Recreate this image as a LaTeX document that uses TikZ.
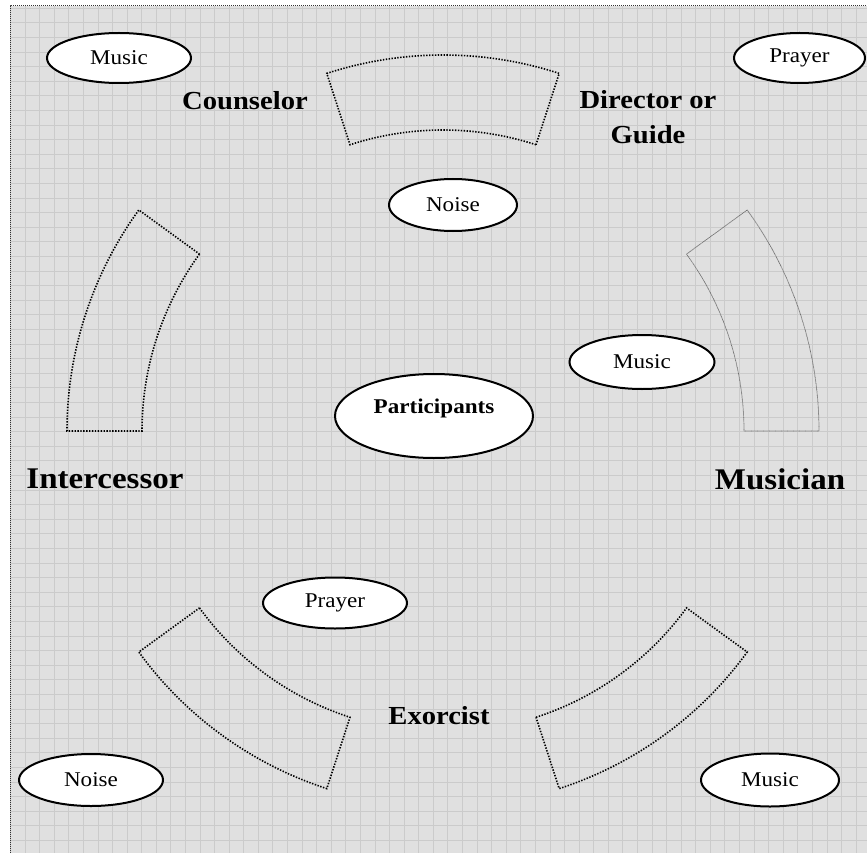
\documentclass[tikz,border=0pt]{standalone}
\usepackage{fontspec}
\setmainfont{Liberation Serif}[FakeStretch=1.1]
\usetikzlibrary{shapes.geometric,calc}

\definecolor{paper}{RGB}{224,224,224}
\definecolor{gridgray}{RGB}{203,203,203}

\tikzset{
  bubble/.style={ellipse, draw=black, line width=2pt, fill=white, inner sep=0pt,
    font=\fontsize{21}{24}\selectfont},
  role/.style={font=\fontsize{26}{35}\selectfont\bfseries, align=center, inner sep=0pt},
  bigrole/.style={role, font=\fontsize{30}{35}\selectfont\bfseries},
  seat/.style={draw=black, line width=1.6pt, dash pattern=on 1.4pt off 1.5pt},
  seatfine/.style={draw=black!60, line width=0.7pt, dash pattern=on 0.7pt off 0.5pt},
  gridline/.style={draw=gridgray, line width=0.7pt},
  frame/.style={draw=black!80, line width=1pt, dash pattern=on 1pt off 1pt}
}

\begin{document}
\begin{tikzpicture}[x=1pt,y=-1pt]
\useasboundingbox (0,0) rectangle (867,853);

% squared paper
\fill[paper] (10,6) rectangle (867,853);
\foreach \i in {0,...,59}
  \draw[gridline] ({10.4+14.58*\i},6) -- ({10.4+14.58*\i},853);
\foreach \j in {0,...,58}
  \draw[gridline] (10,{8.1+14.6*\j}) -- (867,{8.1+14.6*\j});
\draw[frame] (10,853) -- (10,6) -- (867,6);

% five curved seating blocks around a common centre
\coordinate (C) at (443,431);
\foreach \a/\st in {72/seat,144/seat,216/seat,288/seat,0/seatfine}{
  \draw[\st] ($(C)+(-\a:301)$) arc[start angle=-\a, end angle={-\a-36}, radius=301]
    -- ($(C)+({-\a-36}:376)$) arc[start angle={-\a-36}, end angle=-\a, radius=376] -- cycle;
}

% bubbles
\node[bubble, minimum width=144pt, minimum height=50pt] (musicTL) at (119,58) {Music};
\node[bubble, minimum width=131pt, minimum height=50pt] (prayerTR) at (799.5,58) {Prayer};
\node[bubble, minimum width=128pt, minimum height=52pt] (noiseTop) at (453,205) {Noise};
\node[bubble, minimum width=145pt, minimum height=54pt] (musicMid) at (642,362) {Music};
\node[bubble, minimum width=198pt, minimum height=84pt] (participants) at (434,416) {};
\node[font=\fontsize{21}{24}\selectfont\bfseries, inner sep=0pt] (participantsText) at (434,408) {Participants};
\node[bubble, minimum width=144pt, minimum height=51pt] (prayerMid) at (335,603) {Prayer};
\node[bubble, minimum width=144pt, minimum height=52pt] (noiseBL) at (91,780) {Noise};
\node[bubble, minimum width=138pt, minimum height=53pt] (musicBR) at (770,780) {Music};

% roles
\node[role] (counselor) at (245,101) {Counselor};
\node[role] (director) at (648,117) {Director or\\Guide};
\node[bigrole] (intercessor) at (105,479) {Intercessor};
\node[bigrole] (musician) at (780,479) {Musician};
\node[role] (exorcist) at (439,716) {Exorcist};
\end{tikzpicture}
\end{document}
